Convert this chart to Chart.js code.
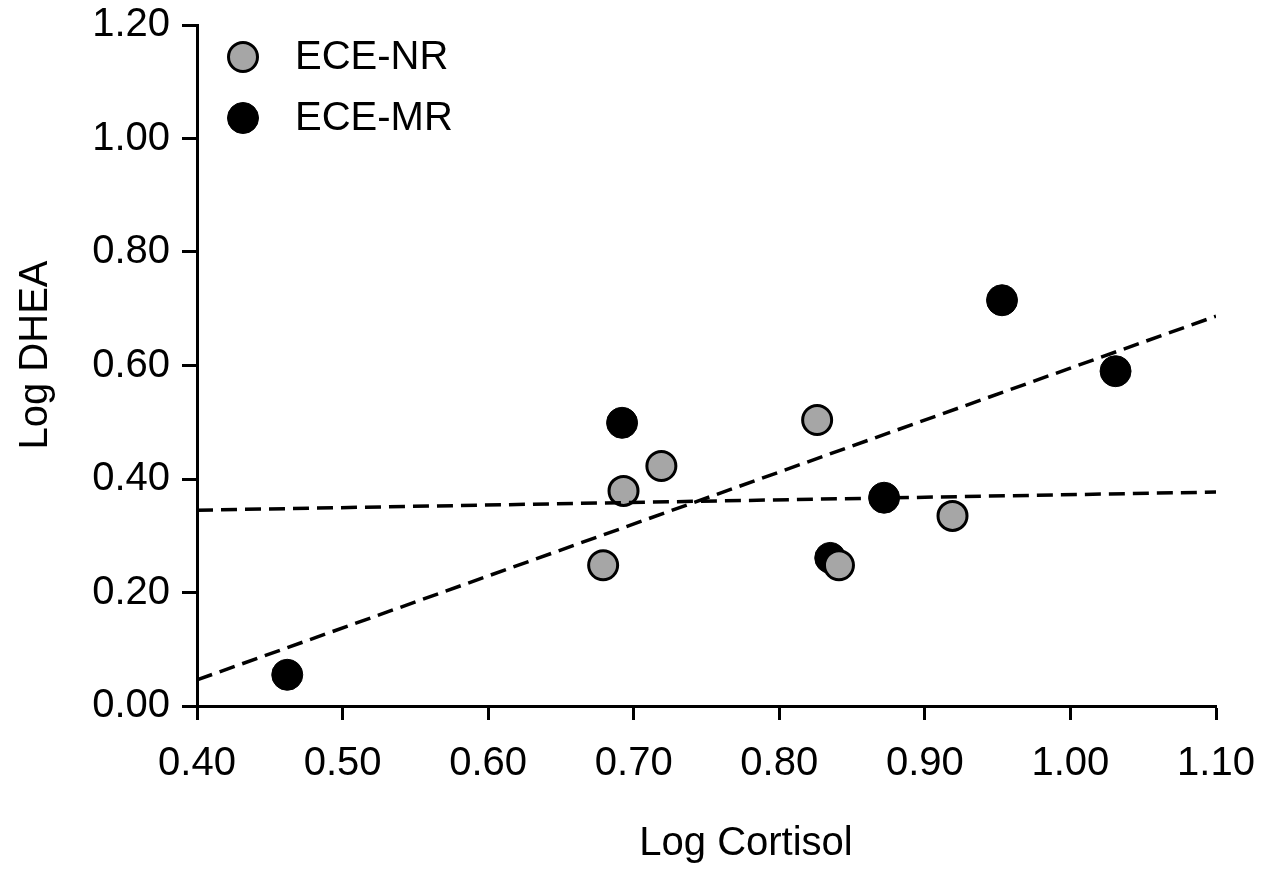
<!DOCTYPE html>
<html>
<head>
<meta charset="utf-8">
<script src="https://cdn.jsdelivr.net/npm/chart.js@4.4.1/dist/chart.umd.min.js"></script>
<style>
  body { margin: 0; background: #fff; }
  #wrap { width: 1268px; height: 872px; }
</style>
</head>
<body>
<div id="wrap"><canvas id="chart" width="1268" height="872"></canvas></div>
<script>
// values
const nrCortisol = [0.679, 0.693, 0.719, 0.826, 0.841, 0.919];
const nrDhea     = [0.248, 0.379, 0.423, 0.504, 0.248, 0.335];
const mrCortisol = [0.462, 0.692, 0.835, 0.872, 0.953, 1.031];
const mrDhea     = [0.055, 0.499, 0.261, 0.367, 0.715, 0.590];

// dashed fit lines, ends at x = 0.40 and 1.10
const fitX   = [0.40, 1.10];
const fitMR  = [0.046, 0.687];
const fitNR  = [0.345, 0.377];

const xTicks = [0.40, 0.50, 0.60, 0.70, 0.80, 0.90, 1.00, 1.10];
const yTicks = [0.00, 0.20, 0.40, 0.60, 0.80, 1.00, 1.20];

const FONT = '"Liberation Sans", Arial, sans-serif';
const FSIZE = 40;
const GRAY = '#a6a6a6';

const toPts = (xs, ys) => xs.map((x, i) => ({ x: x, y: ys[i] }));

// legend drawn inside the plot, top left
const insideLegend = {
  id: 'insideLegend',
  afterDraw(chart) {
    const ctx = chart.ctx;
    const area = chart.chartArea;
    const items = chart.data.datasets.filter(d => d.inLegend);
    ctx.save();
    ctx.font = FSIZE + 'px ' + FONT;
    ctx.textBaseline = 'middle';
    items.forEach((d, i) => {
      const cx = area.left + 46;
      const cy = area.top + 32 + i * 61;
      ctx.beginPath();
      ctx.arc(cx, cy, d.pointRadius, 0, Math.PI * 2);
      ctx.fillStyle = d.backgroundColor;
      ctx.fill();
      ctx.lineWidth = d.borderWidth;
      ctx.strokeStyle = d.borderColor;
      ctx.stroke();
      ctx.fillStyle = '#000';
      ctx.fillText(d.label, area.left + 98, cy + 1);
    });
    ctx.restore();
  }
};

// axis titles
const axisTitles = {
  id: 'axisTitles',
  afterDraw(chart) {
    const ctx = chart.ctx;
    ctx.save();
    ctx.font = FSIZE + 'px ' + FONT;
    ctx.fillStyle = '#000';
    ctx.textAlign = 'center';
    ctx.textBaseline = 'middle';
    ctx.fillText('Log Cortisol', 746, 844);
    ctx.translate(36, 355);
    ctx.rotate(-Math.PI / 2);
    ctx.fillText('Log DHEA', 0, 0);
    ctx.restore();
  }
};

const dashed = {
  showLine: true,
  borderColor: '#000',
  borderWidth: 3.5,
  borderDash: [16, 8],
  pointRadius: 0,
  order: 0
};

new Chart(document.getElementById('chart').getContext('2d'), {
  type: 'scatter',
  data: {
    datasets: [
      Object.assign({ label: 'fit MR', data: toPts(fitX, fitMR) }, dashed),
      Object.assign({ label: 'fit NR', data: toPts(fitX, fitNR) }, dashed),
      {
        label: 'ECE-NR',
        data: toPts(nrCortisol, nrDhea),
        backgroundColor: GRAY,
        borderColor: '#000',
        borderWidth: 3,
        pointRadius: 14.5,
        inLegend: true,
        order: 1
      },
      {
        label: 'ECE-MR',
        data: toPts(mrCortisol, mrDhea),
        backgroundColor: '#000',
        borderColor: '#000',
        borderWidth: 1,
        pointRadius: 15.5,
        inLegend: true,
        order: 2
      }
    ]
  },
  options: {
    responsive: false,
    animation: false,
    layout: { padding: { top: 25, right: 52, left: 0, bottom: 0 } },
    plugins: {
      legend: { display: false },
      tooltip: { enabled: false }
    },
    scales: {
      x: {
        type: 'linear',
        min: 0.4,
        max: 1.1,
        afterFit: s => { s.height = 166; s.paddingLeft = 0; s.paddingRight = 0; },
        afterBuildTicks: s => { s.ticks = xTicks.map(v => ({ value: v })); },
        grid: { drawOnChartArea: false, drawTicks: true, tickLength: 14, tickWidth: 3, tickColor: '#000' },
        border: { display: true, color: '#000', width: 3 },
        ticks: {
          padding: 20,
          color: '#000',
          font: { size: FSIZE, family: FONT },
          maxRotation: 0,
          callback: v => v.toFixed(2)
        }
      },
      y: {
        type: 'linear',
        min: 0,
        max: 1.2,
        afterFit: s => { s.width = 197; s.paddingTop = 0; s.paddingBottom = 0; },
        afterBuildTicks: s => { s.ticks = yTicks.map(v => ({ value: v })); },
        grid: { drawOnChartArea: false, drawTicks: true, tickLength: 15, tickWidth: 3, tickColor: '#000' },
        border: { display: true, color: '#000', width: 3 },
        ticks: {
          padding: 12,
          color: '#000',
          font: { size: FSIZE, family: FONT },
          callback: v => v.toFixed(2)
        }
      }
    }
  },
  plugins: [insideLegend, axisTitles]
});
</script>
</body>
</html>
